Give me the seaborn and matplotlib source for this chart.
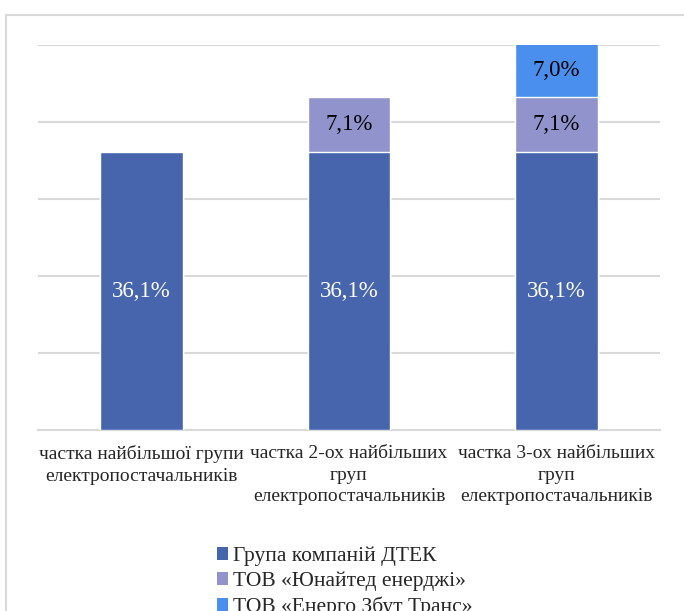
import numpy as np
import pandas as pd
import matplotlib.pyplot as plt
import seaborn as sns
from matplotlib.patches import Patch, Rectangle

categories = [
    "частка найбільшої групи\nелектропостачальників",
    "частка 2-ох найбільших\nгруп\nелектропостачальників",
    "частка 3-ох найбільших\nгруп\nелектропостачальників",
]
series_names = ["Група компаній ДТЕК", "ТОВ «Юнайтед енерджі»", "ТОВ «Енерго Збут Транс»"]
dtek = [36.1, 36.1, 36.1]
united = [0.0, 7.1, 7.1]
energo = [0.0, 0.0, 7.0]
colors = ["#4665ac", "#9194cc", "#4a8fee"]

sns.set_style("white")
plt.rcParams['font.family'] = ['Liberation Serif', 'DejaVu Serif']

fig = plt.figure(figsize=(6.84, 6.11), dpi=100)
ax = fig.add_axes([38 / 684, 1 - 430 / 611, 622 / 684, 385 / 611])

layers = np.array([dtek, united, energo])
cum = layers.cumsum(axis=0)

# draw tallest stack first, then overlay shorter ones
for i in range(len(series_names) - 1, -1, -1):
    df = pd.DataFrame({"cat": categories, "val": cum[i]})
    sns.barplot(data=df, x="cat", y="val", color=colors[i], width=0.4,
                saturation=1, ax=ax, zorder=3)

# labels
for i in range(len(series_names)):
    for j in range(len(categories)):
        v = layers[i][j]
        if v <= 0:
            continue
        mid = cum[i][j] - v / 2
        txt = f"{v:.1f}%".replace(".", ",")
        ax.text(j, mid, txt, ha="center", va="center", fontsize=16.5,
                color="white" if i == 0 else "black", zorder=5)

ax.set_ylim(0, 50)
ax.set_xlim(-0.5, 2.5)
ax.set_yticks(np.arange(0, 51, 10))
ax.yaxis.grid(True, color="#d9d9d9", linewidth=1.5, zorder=0)
ax.set_axisbelow(True)
ax.set_yticklabels([])
ax.tick_params(axis="y", length=0)
ax.tick_params(axis="x", length=0, pad=11, labelsize=14)
for lbl in ax.get_xticklabels():
    lbl.set_multialignment("center")
    lbl.set_linespacing(1.35)
ax.set_xlabel("")
ax.set_ylabel("")
for s in ["top", "right", "left"]:
    ax.spines[s].set_visible(False)
ax.spines["bottom"].set_color("#d9d9d9")
ax.spines["bottom"].set_linewidth(1.5)

handles = [Patch(facecolor=c, edgecolor="none") for c in colors]
fig.legend(handles, series_names, loc="upper left", bbox_to_anchor=(206 / 684, 1 - 536 / 611),
           frameon=False, fontsize=15.5, handlelength=0.5, handleheight=0.5,
           handletextpad=0.25, labelspacing=0.25, borderpad=0)

fig.add_artist(Rectangle((6 / 684, -0.05), 1.0, 1 - 15 / 611 + 0.05, transform=fig.transFigure,
                         fill=False, edgecolor="#d9d9d9", linewidth=1.5))

fig.savefig("out.png", dpi=100)
